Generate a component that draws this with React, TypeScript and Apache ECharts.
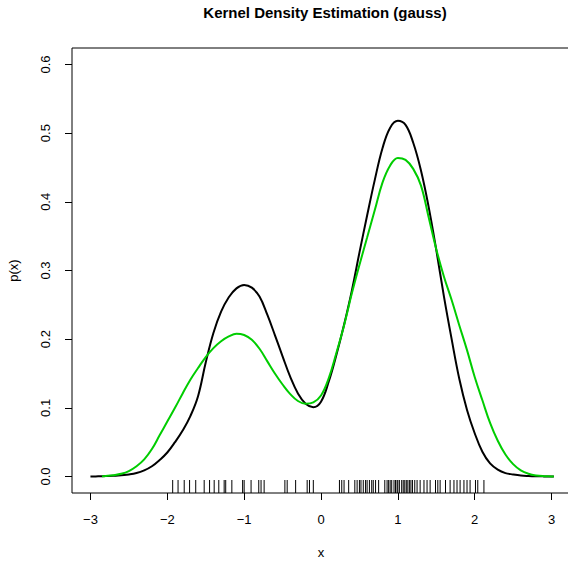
import React, { useEffect, useRef } from "react";
import * as echarts from "echarts";

const TITLE = "Kernel Density Estimation (gauss)";
const X_TICKS = [-3, -2, -1, 0, 1, 2, 3];
const Y_TICKS = [0, 0.1, 0.2, 0.3, 0.4, 0.5, 0.6];

const BLACK_X = [-3.0, -2.9, -2.8, -2.7, -2.6, -2.5, -2.4, -2.3, -2.2, -2.1, -2.0, -1.9, -1.8, -1.7, -1.6, -1.5, -1.4, -1.3, -1.2, -1.1, -1.0, -0.9, -0.8, -0.7, -0.6, -0.5, -0.4, -0.3, -0.2, -0.1, 0.0, 0.1, 0.2, 0.3, 0.4, 0.5, 0.6, 0.7, 0.8, 0.9, 1.0, 1.1, 1.2, 1.3, 1.4, 1.5, 1.6, 1.7, 1.8, 1.9, 2.0, 2.1, 2.2, 2.3, 2.4, 2.5, 2.6, 2.7, 2.8, 2.9, 3.0, 3.03];
const BLACK_Y = [0.0, 0.0003, 0.0006, 0.001, 0.002, 0.003, 0.005, 0.009, 0.015, 0.024, 0.035, 0.05, 0.067, 0.088, 0.117, 0.166, 0.209, 0.24, 0.261, 0.274, 0.279, 0.275, 0.262, 0.236, 0.206, 0.175, 0.145, 0.121, 0.106, 0.101, 0.109, 0.138, 0.177, 0.221, 0.27, 0.326, 0.38, 0.432, 0.478, 0.508, 0.518, 0.512, 0.486, 0.446, 0.393, 0.33, 0.262, 0.2, 0.142, 0.097, 0.063, 0.036, 0.019, 0.01, 0.005, 0.003, 0.0015, 0.0008, 0.0004, 0.0002, 0.0001, 0.0];

const GREEN_X = [-2.85, -2.8, -2.7, -2.6, -2.5, -2.4, -2.3, -2.2, -2.1, -2.0, -1.9, -1.8, -1.7, -1.6, -1.5, -1.4, -1.3, -1.2, -1.1, -1.0, -0.9, -0.8, -0.7, -0.6, -0.5, -0.4, -0.3, -0.2, -0.1, 0.0, 0.1, 0.2, 0.3, 0.4, 0.5, 0.6, 0.7, 0.8, 0.9, 1.0, 1.1, 1.2, 1.3, 1.4, 1.5, 1.6, 1.7, 1.8, 1.9, 2.0, 2.1, 2.2, 2.3, 2.4, 2.5, 2.6, 2.7, 2.8, 2.9, 3.0, 3.03];
const GREEN_Y = [0.0004, 0.0008, 0.002, 0.004, 0.008, 0.015, 0.025, 0.04, 0.06, 0.08, 0.1, 0.121, 0.141, 0.158, 0.174, 0.187, 0.197, 0.204, 0.208, 0.206, 0.199, 0.186, 0.168, 0.15, 0.134, 0.12, 0.11, 0.106, 0.108, 0.118, 0.143, 0.18, 0.22, 0.266, 0.308, 0.348, 0.388, 0.428, 0.453, 0.464, 0.461, 0.448, 0.424, 0.378, 0.331, 0.291, 0.257, 0.22, 0.184, 0.145, 0.111, 0.078, 0.052, 0.032, 0.018, 0.009, 0.004, 0.0015, 0.0005, 0.0002, 0.0];

const RUG = [
  -1.93, -1.86, -1.78, -1.71, -1.63, -1.52, -1.45, -1.39, -1.33, -1.26, -1.24, -1.16, -1.02, -1.0, -0.91, -0.81, -0.78, -0.74,
  -0.47, -0.44, -0.33, -0.18, -0.15, -0.1,
  0.24, 0.27, 0.3, 0.36, 0.44, 0.47, 0.5, 0.52, 0.55, 0.58, 0.6, 0.63, 0.66, 0.68, 0.71, 0.75,
  0.83, 0.86, 0.88, 0.9, 0.92, 0.95, 0.97, 0.99, 1.0, 1.02, 1.05, 1.07, 1.09, 1.11, 1.13, 1.15, 1.17, 1.19, 1.22, 1.25, 1.29,
  1.34, 1.38, 1.42, 1.49, 1.52, 1.55, 1.62, 1.68, 1.73, 1.77, 1.81, 1.86, 1.9, 1.94, 2.01, 2.04, 2.12,
];

const FONT = "'Liberation Sans', Arial, Helvetica, sans-serif";
const fmtX = (v: number) => (v < 0 ? "\u2212" + Math.abs(v) : String(v));

export default function App() {
  const ref = useRef<HTMLDivElement>(null);
  useEffect(() => {
    if (!ref.current) return;
    const chart = echarts.init(ref.current, undefined, { renderer: "svg" });
    chart.setOption({
      animation: false,
      backgroundColor: "#ffffff",
      title: {
        text: TITLE,
        left: 320,
        textAlign: "center",
        top: 0,
        textStyle: { fontFamily: FONT, fontSize: 15, fontWeight: "bold", color: "#000" },
      },
      grid: {
        left: 72,
        top: 48,
        right: -2,
        bottom: 68,
        outerBoundsMode: "none",
        containLabel: false,
        show: true,
        borderColor: "#000",
        borderWidth: 1,
        backgroundColor: "transparent",
      },
      xAxis: {
        type: "value",
        min: -3.24,
        max: 3.24,
        name: "x",
        nameLocation: "middle",
        nameGap: 53,
        nameTextStyle: { fontFamily: FONT, fontSize: 13, color: "#000", lineHeight: 13 },
        axisLine: { show: false, onZero: false },
        splitLine: { show: false },
        axisTick: {
          show: true,
          inside: false,
          length: 7,
          customValues: X_TICKS,
          lineStyle: { color: "#000", width: 1 },
        },
        axisLabel: {
          customValues: X_TICKS,
          formatter: fmtX,
          margin: 20,
          fontFamily: FONT,
          fontSize: 13,
          color: "#000",
        },
      },
      yAxis: {
        type: "value",
        min: -0.024,
        max: 0.624,
        name: "p(x)",
        nameLocation: "middle",
        nameRotate: 90,
        nameGap: 52,
        nameTextStyle: { fontFamily: FONT, fontSize: 13, color: "#000" },
        axisLine: { show: false, onZero: false },
        splitLine: { show: false },
        axisTick: {
          show: true,
          inside: false,
          length: 7,
          customValues: Y_TICKS,
          lineStyle: { color: "#000", width: 1 },
        },
        axisLabel: {
          customValues: Y_TICKS,
          formatter: (v: number) => v.toFixed(1),
          rotate: 90,
          margin: 20,
          fontFamily: FONT,
          fontSize: 13,
          color: "#000",
        },
      },
      series: [
        {
          type: "custom",
          name: "rug",
          data: RUG.map((v) => [v, 0]),
          encode: { x: 0, y: 1 },
          clip: false,
          renderItem: (params: any, api: any) => {
            const p = api.coord([api.value(0), 0]);
            const bottom = params.coordSys.y + params.coordSys.height;
            return {
              type: "line",
              shape: { x1: p[0], y1: bottom, x2: p[0], y2: bottom - 13 },
              style: { stroke: "#000", lineWidth: 1 },
            };
          },
        },
        {
          type: "line",
          name: "black",
          data: BLACK_X.map((x, i) => [x, BLACK_Y[i]]),
          symbol: "none",
          smooth: 0.4,
          lineStyle: { color: "#000000", width: 2 },
          z: 3,
        },
        {
          type: "line",
          name: "green",
          data: GREEN_X.map((x, i) => [x, GREEN_Y[i]]),
          symbol: "none",
          smooth: 0.4,
          lineStyle: { color: "#00CD00", width: 2 },
          z: 4,
        },
      ],
    });
    return () => chart.dispose();
  }, []);
  return (
    <div
      ref={ref}
      style={{ position: "fixed", left: 0, top: 0, width: 568, height: 561, background: "#fff" }}
    />
  );
}
